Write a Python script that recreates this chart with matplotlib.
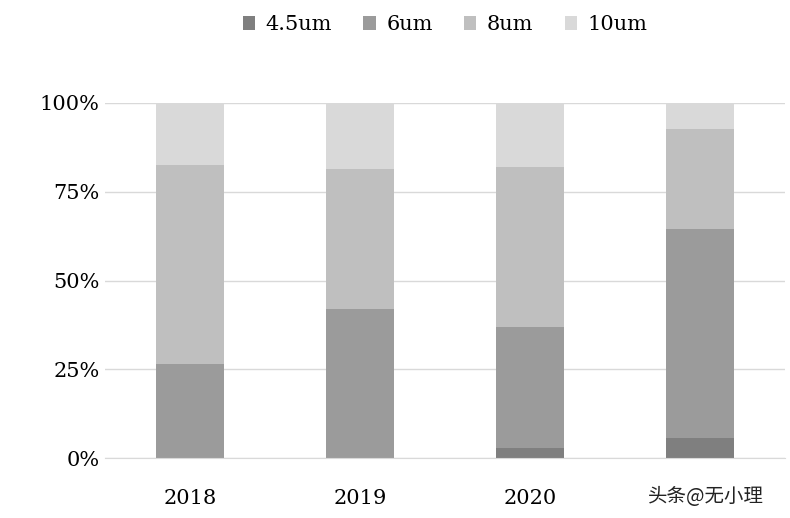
import numpy as np
import matplotlib.pyplot as plt

plt.rcParams['font.family'] = ['DejaVu Serif']

years = ['2018', '2019', '2020', '2021E']
s45 = [0.0, 0.0, 2.8, 5.6]
s6 = [26.5, 42.0, 34.2, 58.9]
s8 = [56.0, 39.5, 45.0, 28.2]
s10 = [17.5, 18.5, 18.0, 7.3]
names = ['4.5um', '6um', '8um', '10um']
colors = ['#7f7f7f', '#9b9b9b', '#bfbfbf', '#d9d9d9']

fig = plt.figure(figsize=(7.9, 5.18), dpi=100)
ax = fig.add_axes([105/790, 60/518, 680/790, 355/518])
x = np.arange(len(years))
bottom = np.zeros(len(years))
for vals, name, c in zip([s45, s6, s8, s10], names, colors):
    ax.bar(x, vals, 0.4, bottom=bottom, color=c, label=name)
    bottom += np.array(vals)

ax.set_xlim(-0.5, 3.5)
ax.set_ylim(0, 100)
ax.set_yticks([0, 25, 50, 75, 100])
ax.set_yticklabels(['0%', '25%', '50%', '75%', '100%'], fontsize=15)
ax.set_xticks(x)
ax.set_xticklabels(years, fontsize=15)
ax.yaxis.grid(True, color='#d9d9d9', lw=1)
ax.set_axisbelow(True)
for s in ['top', 'right', 'left']:
    ax.spines[s].set_visible(False)
ax.spines['bottom'].set_color('#d9d9d9')
ax.tick_params(axis='x', length=0, pad=22)
ax.tick_params(axis='y', length=0, pad=4)
ax.legend(loc='upper center', bbox_to_anchor=(0.5, 1.3), ncol=4, frameon=False,
          fontsize=15, handlelength=0.6, handleheight=0.6, columnspacing=1.5, handletextpad=0.5)
# watermark sits over the last tick label, as in the source image
fig.text(0.82, 0.03, '头条@无小理', fontsize=14, color='#222222',
         family=['Noto Sans CJK SC', 'DejaVu Sans'],
         bbox=dict(facecolor='white', edgecolor='none', pad=2))
fig.savefig('out.png', dpi=100)
